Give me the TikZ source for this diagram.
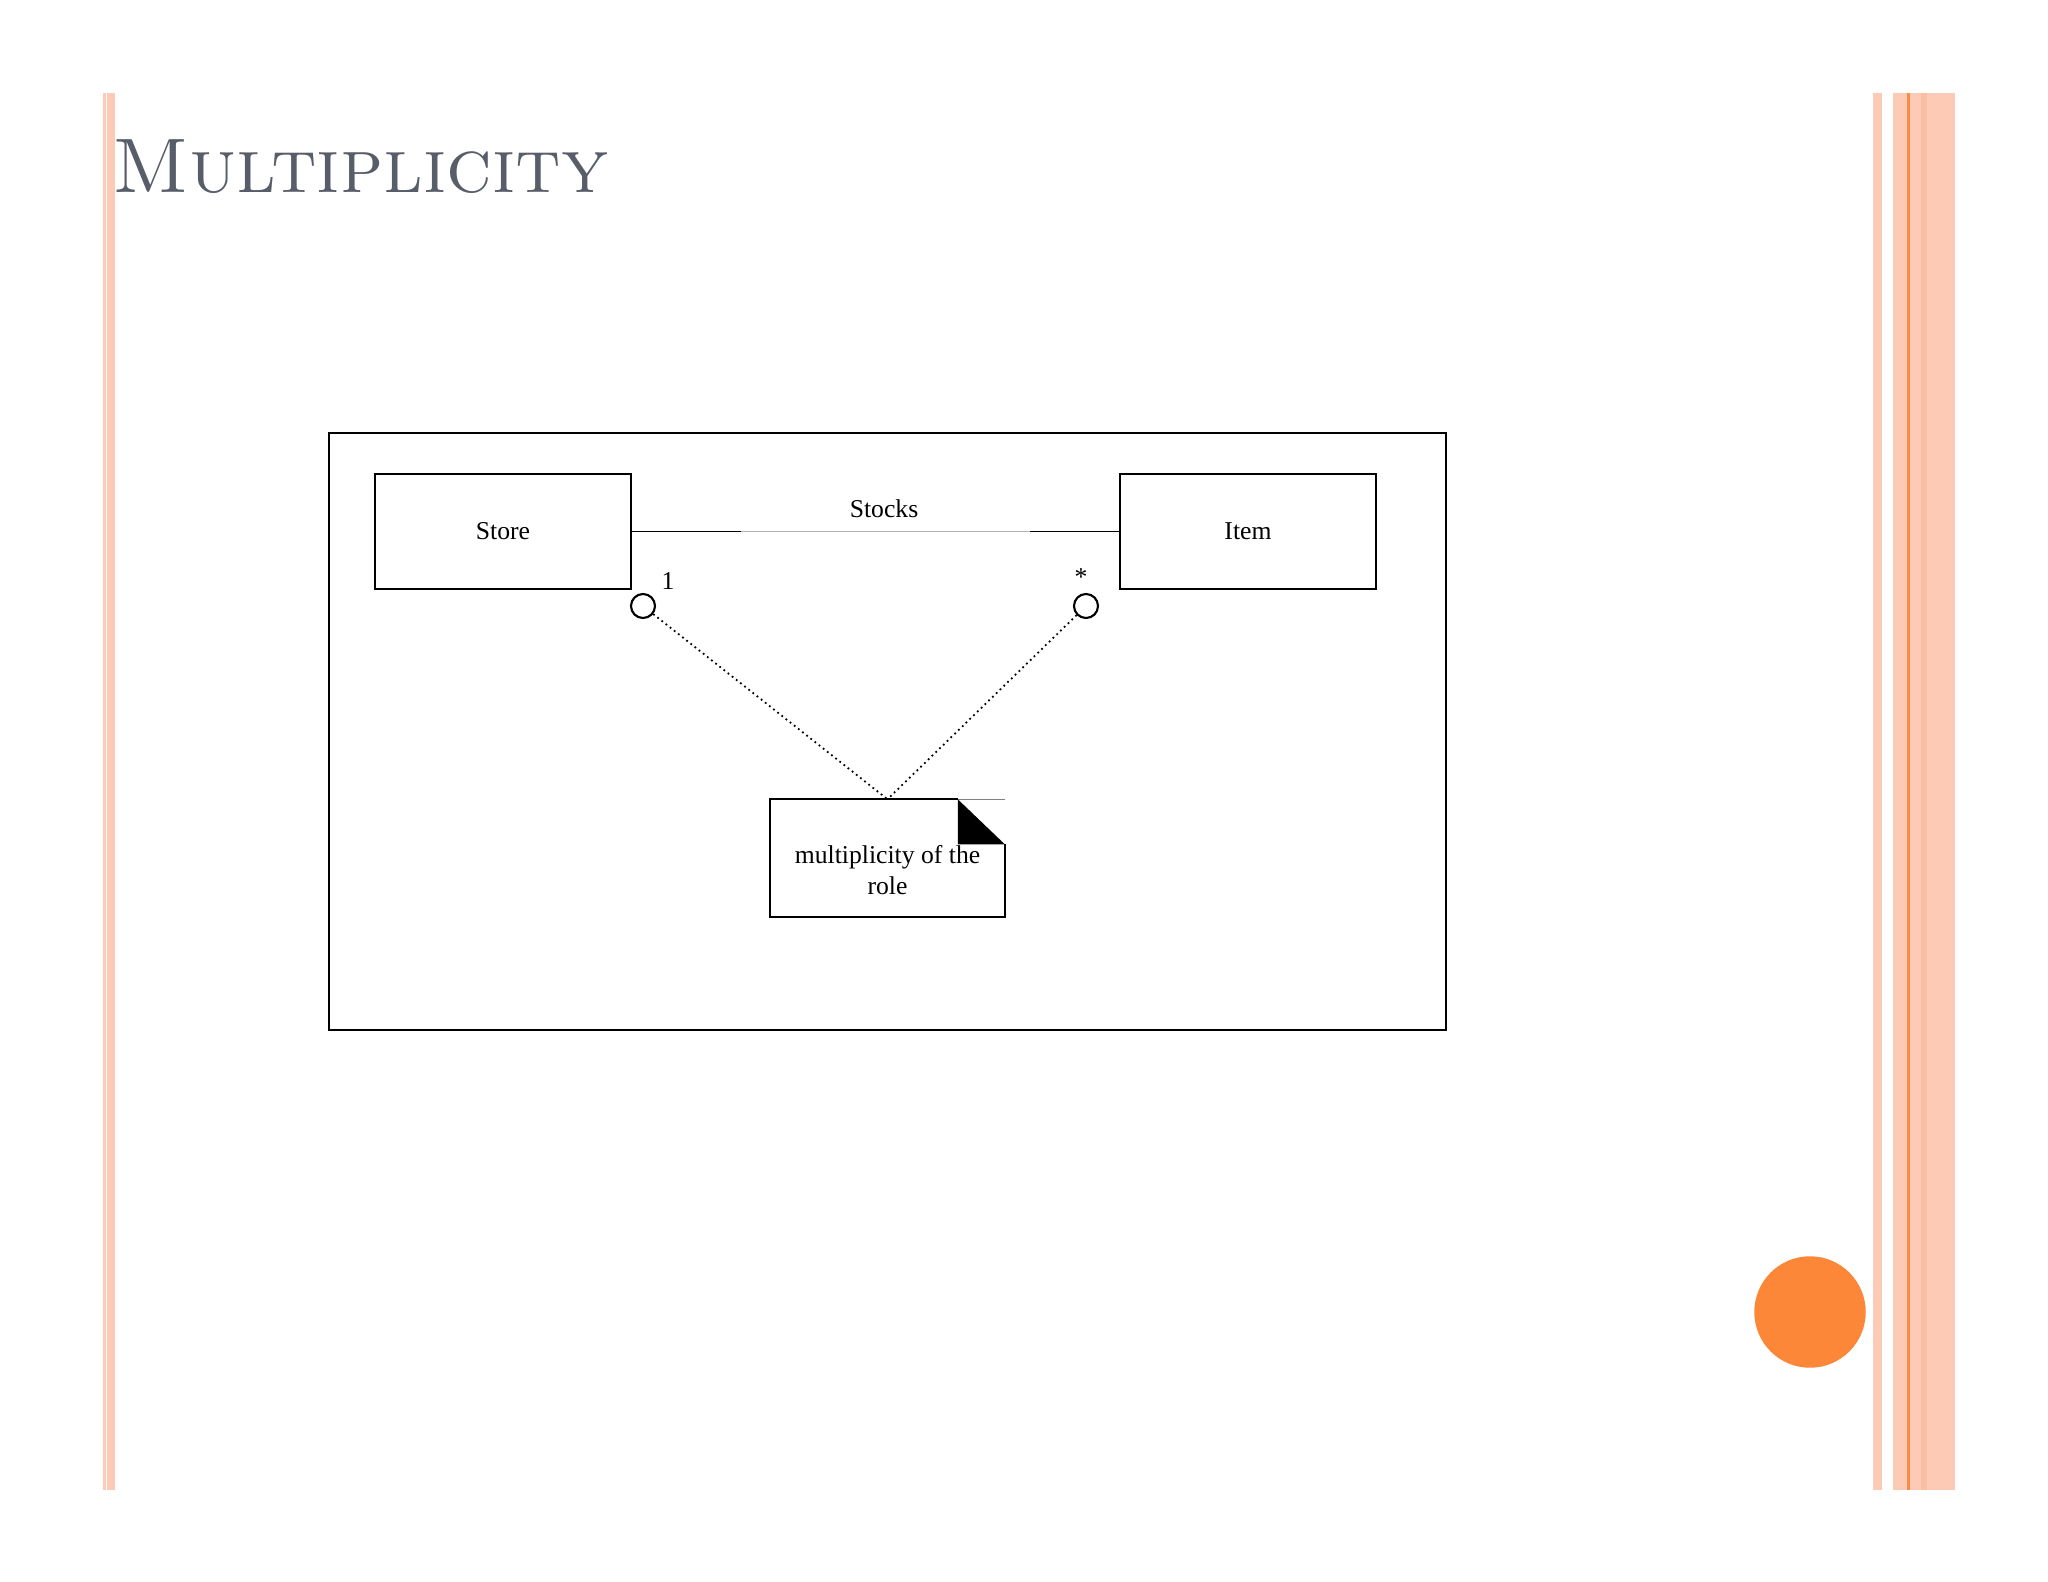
\documentclass[tikz,border=0pt]{standalone}
\usepackage{fontspec}
\newfontfamily\umlfont{Liberation Serif}
\usetikzlibrary{calc}
\definecolor{barpink}{RGB}{253,202,182}
\definecolor{barline}{RGB}{246,140,70}
\definecolor{dotorange}{RGB}{253,135,56}
\definecolor{titlegray}{RGB}{88,93,106}
\begin{document}
\begin{tikzpicture}[x=0.01cm, y=-0.01cm,
  umlbox/.style={draw, line width=0.6pt, minimum width=2.56cm, minimum height=1.15cm, font=\umlfont\fontsize{7.3}{8.8}\selectfont},
  rolecircle/.style={draw, circle, line width=0.6pt, minimum size=0.24cm, inner sep=0pt},
  umltext/.style={font=\umlfont\fontsize{7.3}{8.6}\selectfont, inner sep=0pt}]
\useasboundingbox (0,0) rectangle (2048,1582);

% Draw the side bars and the orange dot
\fill[barpink] (103,93) rectangle (105.5,1490);
\fill[barpink] (106.5,93) rectangle (115,1490);
\fill[barpink] (1873,93) rectangle (1882,1490);
\fill[barpink] (1893,93) rectangle (1955,1490);
\fill[barpink!80!barline] (1921,93) rectangle (1927,1490);
\fill[barline] (1907,93) rectangle (1910,1490);
\fill[dotorange] (1810,1312) circle (0.557cm);

% Title
\node[anchor=base west, inner sep=0pt, text=titlegray, font=\fontsize{22}{26}\selectfont] (title) at (112,193) {\textsc{Multiplicity}};

% Outer frame
\draw[line width=0.6pt] (329,433) rectangle (1446,1030);

% Classes and the association
\node[umlbox] (store) at (503,531.5) {Store};
\node[umlbox] (item) at (1248,531.5) {Item};
\draw[gray!60, line width=0.5pt] (store) -- (item);
\draw[line width=0.5pt] (store.east) -- ([xshift=1.09cm]store.east);
\draw[line width=0.5pt] (item.west) -- ([xshift=-0.89cm]item.west);
\node[umltext] (stocks) at (884,509) {Stocks};

% Role ends with multiplicities
\node[rolecircle] (lrole) at (643,606) {};
\node[rolecircle] (rrole) at (1086,606) {};
\node[umltext] (lmult) at (668,581) {1};
\node[umltext] (rmult) at (1081,577) {*};

% Note with folded corner
\node[minimum width=2.33cm, minimum height=1.16cm, inner sep=0pt] (note) at (887.5,858) {};
\node[umltext, align=center] (notetext) at ([yshift=-0.12cm]note.center) {multiplicity of the\\role};
\draw[line width=0.6pt] ($(note.north east)+(-47,0)$) -- (note.north west) -- (note.south west) -- (note.south east) -- ($(note.north east)+(0,45)$);
\draw[gray, line width=0.4pt] ($(note.north east)+(-47,0)$) -- (note.north east);
\fill ($(note.north east)+(-47,0)$) -- ++(0,45) -- ++(47,0) -- cycle;
\draw[densely dotted, line width=0.5pt] (lrole) -- (note.north);
\draw[densely dotted, line width=0.5pt] (rrole) -- (note.north);
\end{tikzpicture}
\end{document}
